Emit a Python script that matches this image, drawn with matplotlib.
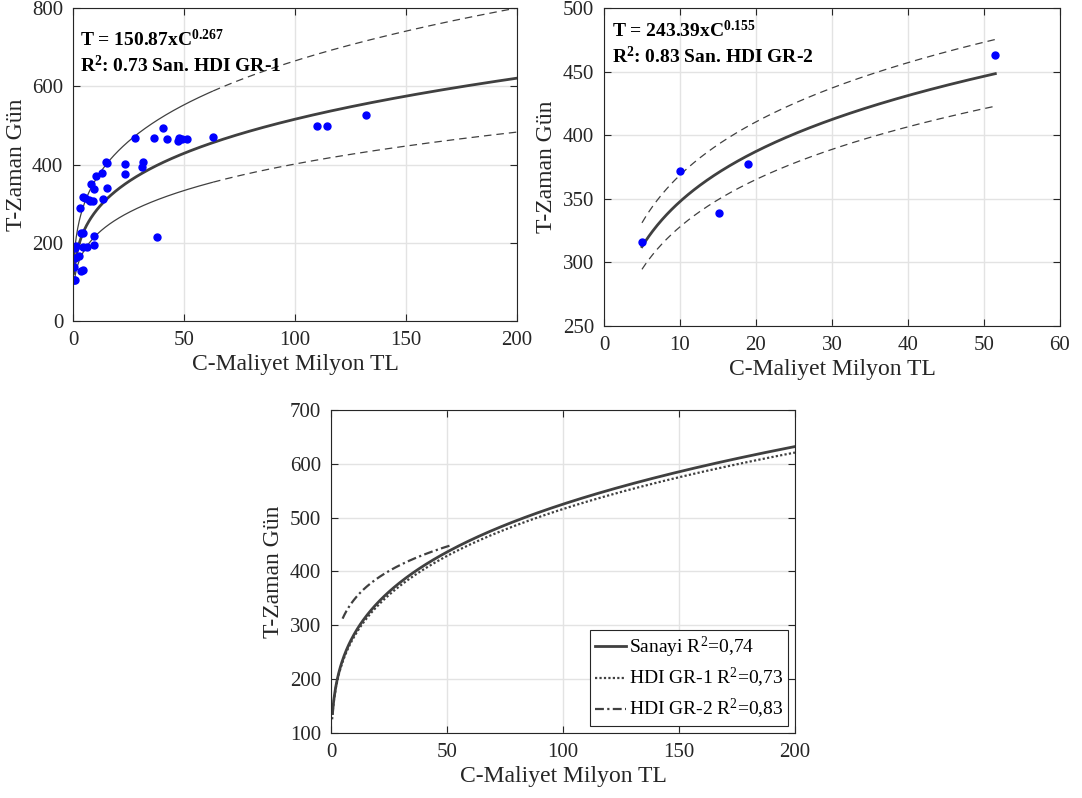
import numpy as np
import matplotlib
matplotlib.use("Agg")
import matplotlib.pyplot as plt

plt.rcParams["font.family"] = ["Liberation Serif", "DejaVu Serif"]
plt.rcParams["mathtext.fontset"] = "custom"
plt.rcParams["mathtext.rm"] = "Liberation Serif"
plt.rcParams["mathtext.bf"] = "Liberation Serif:bold"
plt.rcParams["mathtext.default"] = "regular"

# HDI GR-1 projects: cost (million TL) vs duration (days)
gr1_cost = [0.5, 1.0, 0.5, 1.0, 2.9, 3.8, 4.6, 0.7, 1.3, 4.4, 6.2, 9.3,
            3.5, 4.3, 9.3, 3.3, 4.5, 5.2, 7.1, 7.6, 9.1, 13.3, 8.3, 9.4,
            15.5, 10.5, 13.0, 14.7, 15.2, 23.5, 23.5, 31.6, 31.2, 28.0,
            36.4, 40.5, 42.3, 47.1, 47.7, 49.1, 51.2, 63.1, 37.8, 109.9,
            114.6, 132.1]
gr1_days = [104, 106, 137, 160, 165, 129, 131, 187, 192, 188, 188, 195,
            224, 226, 217, 289, 316, 315, 309, 307, 308, 313, 350, 338,
            339, 372, 378, 407, 405, 401, 377, 406, 395, 469,
            467, 494, 465, 460, 467, 465, 466, 471, 216, 498,
            498, 526]

# HDI GR-2 projects
gr2_cost = [5.0, 10.0, 15.1, 18.9, 51.5]
gr2_days = [316, 372, 339, 377, 463]

# power-law fits T = a * C^b
gr1_a, gr1_b = 150.87, 0.267
gr2_a, gr2_b = 243.39, 0.155
san_a, san_b = 153.0, 0.2677

# band factors around each fit
gr1_upper, gr1_lower = 1.289, 0.778
gr2_upper, gr2_lower = 1.06, 0.943

DARK = "#404040"
GRID = "#e3e3e3"
TXT = "#262626"


def fit(a, b, c):
    return a * np.power(c, b)


def style_axes(ax, xlim, ylim, xticks, yticks):
    ax.set_xlim(*xlim)
    ax.set_ylim(*ylim)
    ax.set_xticks(xticks)
    ax.set_yticks(yticks)
    ax.grid(True, color=GRID, linewidth=1)
    ax.set_axisbelow(True)
    ax.tick_params(direction="in", top=True, right=True, labelsize=15,
                   colors=TXT, length=5)
    ax.tick_params(axis="x", pad=7)
    ax.tick_params(axis="y", pad=7)
    for s in ax.spines.values():
        s.set_color(TXT)
    ax.set_xlabel("C-Maliyet Milyon TL", fontsize=17, color=TXT, labelpad=3)
    ax.set_ylabel("T-Zaman Gün", fontsize=17, color=TXT, labelpad=4)


fig = plt.figure(figsize=(10.82, 7.98), dpi=100)

# --- GR-1 with scatter and band ---
ax1 = fig.add_axes([0.0675, 0.5977, 0.4104, 0.3922])
c = np.linspace(0.45, 200, 600)
c_in = c[c <= 63]
c_out = c[c >= 63]
ax1.plot(c, fit(gr1_a, gr1_b, c), color=DARK, lw=2)
for f in (gr1_upper, gr1_lower):
    ax1.plot(c_in, f * fit(gr1_a, gr1_b, c_in), color=DARK, lw=0.9)
    ax1.plot(c_out, f * fit(gr1_a, gr1_b, c_out), color=DARK, lw=0.9,
             ls=(0, (6, 4)))
ax1.plot(gr1_cost, gr1_days, "o", color="#0000ff", ms=5)
style_axes(ax1, (0, 200), (0, 800), range(0, 201, 50), range(0, 801, 200))
ax1.text(0.016, 0.88, r"T = 150.87xC$^{0.267}$", transform=ax1.transAxes,
         fontsize=14, fontweight="bold", color="black")
ax1.text(0.016, 0.795, r"R$^{2}$: 0.73 San. HDI GR-1", transform=ax1.transAxes,
         fontsize=14, fontweight="bold", color="black")

# --- GR-2 with scatter and band ---
ax2 = fig.add_axes([0.5582, 0.5915, 0.4214, 0.3985])
c2 = np.linspace(5, 51.5, 300)
ax2.plot(c2, fit(gr2_a, gr2_b, c2), color=DARK, lw=2)
for f in (gr2_upper, gr2_lower):
    ax2.plot(c2, f * fit(gr2_a, gr2_b, c2), color=DARK, lw=0.9,
             ls=(0, (6, 4)))
ax2.plot(gr2_cost, gr2_days, "o", color="#0000ff", ms=5)
style_axes(ax2, (0, 60), (250, 500), range(0, 61, 10), range(250, 501, 50))
ax2.text(0.018, 0.907, r"T = 243.39xC$^{0.155}$", transform=ax2.transAxes,
         fontsize=14, fontweight="bold", color="black")
ax2.text(0.018, 0.827, r"R$^{2}$: 0.83 San. HDI GR-2", transform=ax2.transAxes,
         fontsize=14, fontweight="bold", color="black")

# --- comparison of the three fits ---
ax3 = fig.add_axes([0.3059, 0.0815, 0.4288, 0.4048])
cs = np.linspace(0.65, 200, 600)
cg1 = np.linspace(0.5, 200, 600)
ax3.plot(cs, fit(san_a, san_b, cs), color=DARK, lw=2,
         label=r"Sanayi R$^{2}$=0,74")
ax3.plot(cg1, fit(gr1_a, gr1_b, cg1), color=DARK, lw=1.6, ls=(0, (1, 1)),
         label=r"HDI GR-1 R$^{2}$=0,73")
ax3.plot(c2, fit(gr2_a, gr2_b, c2), color=DARK, lw=1.6,
         ls=(0, (4, 1.5, 1, 1.5)), label=r"HDI GR-2 R$^{2}$=0,83")
style_axes(ax3, (0, 200), (100, 700), range(0, 201, 50), range(100, 701, 100))
leg = ax3.legend(loc="lower right", fontsize=14, frameon=True, fancybox=False,
                 framealpha=1, edgecolor=TXT, borderaxespad=0.35,
                 handlelength=1.6, handletextpad=0.15, labelspacing=0.35,
                 borderpad=0.25)
leg.get_frame().set_linewidth(0.8)

fig.savefig("out.png", dpi=100)
